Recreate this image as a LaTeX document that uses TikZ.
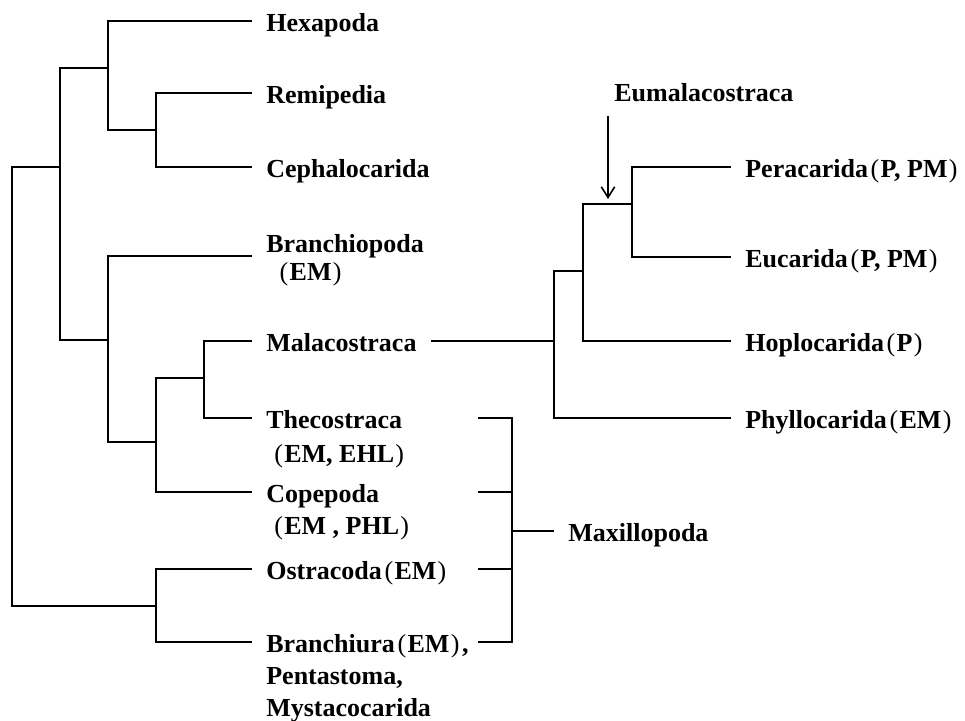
\documentclass[tikz,border=0pt]{standalone}
\usepackage{fontspec}
\setmainfont{Liberation Serif}
\usetikzlibrary{arrows.meta,positioning,calc}
\newcommand{\lpar}{\kern2pt{\mdseries(}\kern1pt}
\newcommand{\rpar}{\kern1pt{\mdseries)}\kern2pt}
\tikzset{
  taxon/.style={anchor=west, inner xsep=10pt, inner ysep=0pt,
    font=\bfseries\fontsize{19.5}{24}\selectfont, text height=16pt, text depth=0pt},
}
\begin{document}
\begin{tikzpicture}[x=0.75pt, y=-0.75pt, line width=1.5pt, line join=miter, >={Straight Barb[length=8pt,width=10pt]}]
\useasboundingbox (0,0) rectangle (965,721);
% branching points
\path
(12,386) coordinate (root)
(60,167) coordinate (A)
(108,68) coordinate (C)
(156,130) coordinate (E)
(108,340) coordinate (D)
(156,442) coordinate (F)
(204,378) coordinate (G)
(156,606) coordinate (B)
(554,341) coordinate (M)
(583,271) coordinate (H)
(632,204) coordinate (Eu)
(512,531) coordinate (mx)
(478,531) coordinate (mxl)
(608,116) coordinate (arrowtop)
;
% taxa
\node[taxon] (hexa) at (252,21) {Hexapoda};
\node[taxon] (remi) at (252,93) {Remipedia};
\node[taxon] (cepha) at (252,167) {Cephalocarida};
\node[taxon] (branchio) at (252,242) {Branchiopoda};
\node[taxon, below=21pt of branchio.west, anchor=west] (branchio2) {\hspace{8pt}\lpar EM\rpar};
\node[taxon] (malaco) at (252,341) {Malacostraca};
\node[taxon] (theco) at (252,418) {Thecostraca};
\node[taxon, below=25pt of theco.west, anchor=west] (theco2) {\hspace{4pt}\lpar EM, EHL\rpar};
\node[taxon] (cope) at (252,492) {Copepoda};
\node[taxon, below=24pt of cope.west, anchor=west] (cope2) {\hspace{4pt}\lpar EM , PHL\rpar};
\node[taxon] (ostra) at (252,569) {Ostracoda\lpar EM\rpar};
\node[taxon] (branchiu) at (252,642) {Branchiura\lpar EM\rpar,};
\node[taxon, below=24pt of branchiu.west, anchor=west] (branchiu2) {Pentastoma,};
\node[taxon, below=24pt of branchiu2.west, anchor=west] (branchiu3) {Mystacocarida};
\node[taxon] (pera) at (731,167) {Peracarida\lpar P, PM\rpar};
\node[taxon] (euca) at (731,257) {Eucarida\lpar P, PM\rpar};
\node[taxon] (hoplo) at (731,341) {Hoplocarida\lpar P\rpar};
\node[taxon] (phyllo) at (731,418) {Phyllocarida\lpar EM\rpar};
\node[taxon] (maxi) at (554,531) {Maxillopoda};
\node[taxon] (eumala) at (600,91) {Eumalacostraca};
% tree
\foreach \p/\c in {root/A, root/B, A/C, A/D, C/hexa.west, C/E, E/remi.west, E/cepha.west,
  D/F, F/G, F/cope.west, G/malaco.west, G/theco.west,
  B/ostra.west, B/branchiu.west,
  M/H, M/phyllo.west, H/Eu, H/hoplo.west, Eu/pera.west, Eu/euca.west}
  \draw (\p) |- (\c);
\draw (D) |- ($(branchio.west)!.5!(branchio2.west)$);
\draw (malaco.east) -- (M);
% Maxillopoda bracket
\foreach \c in {theco, cope, ostra, branchiu}
  \draw (mx) |- (\c.west -| mxl);
\draw (mx) -- (maxi.west);
\draw[->, line width=1.2pt, shorten >=3.75pt] (arrowtop) -- (arrowtop |- Eu);
\end{tikzpicture}
\end{document}
